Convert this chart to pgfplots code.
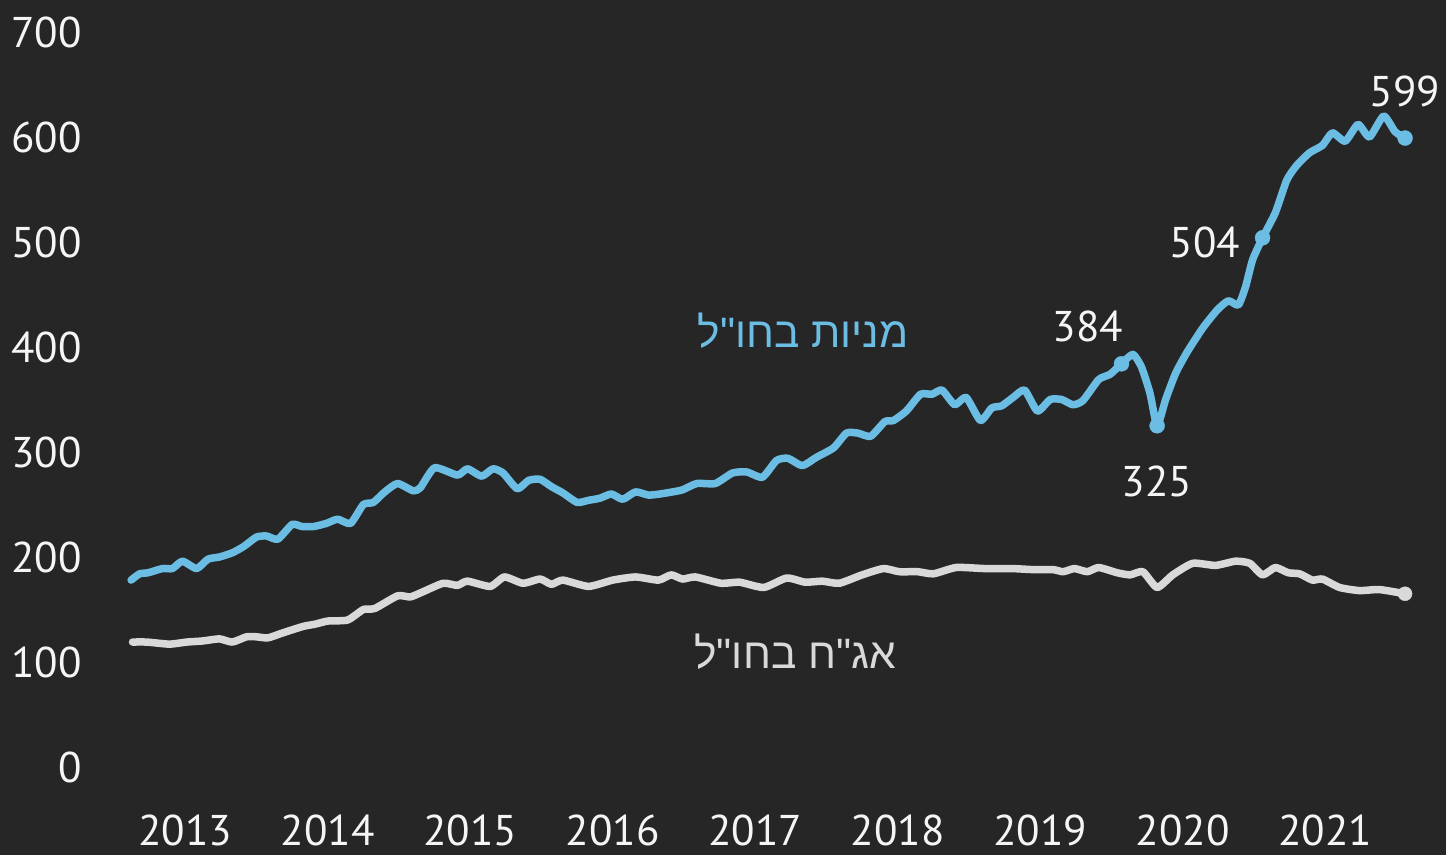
\documentclass[border=0pt]{standalone}
\usepackage{pgfplots}
\pgfplotsset{compat=1.18}
\usepackage{fontspec}
\setmainfont{PT Sans}
\newfontfamily\hebfont[Script=Hebrew]{Liberation Sans}
\TeXXeTstate=1

\definecolor{bg}{HTML}{262626}
\definecolor{stocks}{HTML}{6BBDE3}
\definecolor{bonds}{HTML}{D9D9D9}
\definecolor{lbl}{HTML}{F5F5F5}

\pgfplotstableread{
x y
2013.12 178
2013.18 184
2013.24 185
2013.34 189
2013.41 189
2013.48 196
2013.58 189
2013.66 198
2013.74 200
2013.83 204
2013.91 210
2014.00 219
2014.07 220
2014.15 217
2014.25 231
2014.32 229
2014.40 229
2014.49 232
2014.57 236
2014.66 232
2014.75 250
2014.82 252
2014.90 262
2014.99 270
2015.10 263
2015.15 266
2015.25 285
2015.41 278
2015.48 284
2015.58 277
2015.66 284
2015.73 280
2015.83 265
2015.91 273
2015.99 274
2016.07 267
2016.15 261
2016.25 252
2016.33 254
2016.41 256
2016.49 260
2016.57 255
2016.66 262
2016.75 259
2016.83 260
2016.92 262
2016.99 264
2017.09 270
2017.22 270
2017.34 280
2017.44 281
2017.55 276
2017.65 292
2017.73 294
2017.83 287
2017.93 295
2018.05 304
2018.14 318
2018.22 318
2018.31 315
2018.41 329
2018.47 330
2018.56 339
2018.66 355
2018.74 355
2018.81 359
2018.90 345
2018.98 352
2019.08 330
2019.16 342
2019.23 344
2019.31 352
2019.39 359
2019.48 339
2019.57 350
2019.65 350
2019.73 345
2019.80 349
2019.91 369
2019.99 374
2020.07 384
2020.15 393
2020.21 381
2020.27 356
2020.32 325
2020.38 350
2020.45 375
2020.53 395
2020.64 418
2020.74 435
2020.82 444
2020.89 440
2020.94 457
2020.99 483
2021.06 504
2021.15 528
2021.23 559
2021.30 573
2021.39 585
2021.48 592
2021.55 604
2021.64 596
2021.73 612
2021.81 600
2021.91 620
2021.99 605
2022.06 599
}\stockstbl

\pgfplotstableread{
x y
2013.13 119
2013.23 119
2013.39 117
2013.51 119
2013.62 120
2013.74 122
2013.83 119
2013.93 124
2014.00 124
2014.08 123
2014.19 128
2014.33 134
2014.41 136
2014.50 139
2014.64 140
2014.75 150
2014.83 151
2014.99 163
2015.08 162
2015.17 167
2015.31 175
2015.41 173
2015.48 177
2015.64 172
2015.74 181
2015.87 175
2015.99 179
2016.07 174
2016.15 178
2016.33 172
2016.50 178
2016.66 181
2016.82 178
2016.91 183
2016.99 179
2017.08 181
2017.26 175
2017.39 176
2017.56 171
2017.72 180
2017.85 176
2017.97 177
2018.09 175
2018.25 183
2018.40 189
2018.51 186
2018.64 186
2018.75 184
2018.91 190
2019.11 189
2019.30 189
2019.45 188
2019.59 188
2019.66 186
2019.74 189
2019.83 186
2019.91 190
2020.04 185
2020.13 183
2020.22 186
2020.32 171
2020.43 183
2020.57 194
2020.73 192
2020.87 196
2020.97 194
2021.06 183
2021.15 190
2021.24 185
2021.32 184
2021.41 178
2021.48 179
2021.60 171
2021.74 168
2021.88 169
2022.06 165
}\bondstbl

\begin{document}
\begin{tikzpicture}[x=1pt,y=1pt]
\fill[bg] (-114,-88) rectangle (1332,767);
\useasboundingbox (-114,-88) rectangle (1332,767);
\begin{axis}[
  at={(0,0)}, anchor=south west,
  scale only axis, width=1306pt, height=735pt,
  xmin=2013, xmax=2022.165, ymin=0, ymax=700,
  axis line style={draw=none},
  major tick length=0pt,
  ytick={0,100,...,700},
  xtick={2013.5,2014.5,...,2021.5},
  xticklabels={2013,2014,2015,2016,2017,2018,2019,2020,2021},
  tick label style={font=\fontsize{43}{52}\selectfont, text=lbl},
  yticklabel style={anchor=east, inner sep=0pt, xshift=-32pt},
  xticklabel style={anchor=north, inner sep=0pt, yshift=-48pt},
  /pgf/number format/assume math mode=true,
  clip=false,
]
\addplot[bonds, line width=7.5pt, line join=round, line cap=round, smooth, tension=0.35] table[x=x, y=y] {\bondstbl};
\addplot[stocks, line width=7.5pt, line join=round, line cap=round, smooth, tension=0.35] table[x=x, y=y] {\stockstbl};
\addplot[only marks, mark=*, mark size=7.5pt, stocks] coordinates {(2020.07,384) (2020.32,325) (2021.06,504) (2022.06,599)};
\addplot[only marks, mark=*, mark size=7pt, bonds] coordinates {(2022.06,165)};

\node[font=\fontsize{43}{52}\selectfont, text=lbl] at (axis cs:2019.835,420) {384};
\node[font=\fontsize{43}{52}\selectfont, text=lbl] at (axis cs:2020.32,272) {325};
\node[font=\fontsize{43}{52}\selectfont, text=lbl] at (axis cs:2020.656,500) {504};
\node[font=\fontsize{43}{52}\selectfont, text=lbl] at (axis cs:2022.06,643) {599};

\node[font=\fontsize{42.5}{50}\hebfont, text=stocks] at (axis cs:2017.835,416) {\beginR מניות בחו"ל\endR};
\node[font=\fontsize{42.5}{50}\hebfont, text=bonds] at (axis cs:2017.78,110) {\beginR אג"ח בחו"ל\endR};
\end{axis}
\end{tikzpicture}
\end{document}
